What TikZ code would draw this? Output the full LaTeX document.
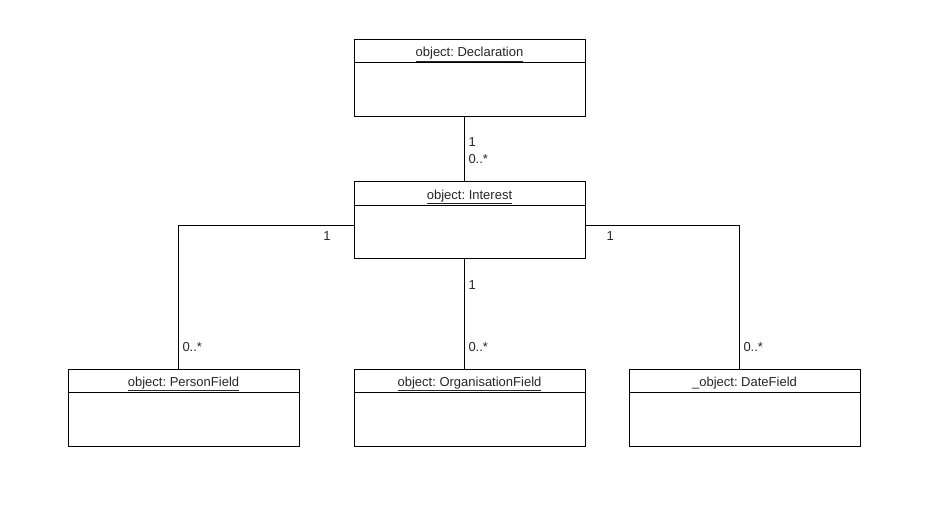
\documentclass[tikz,border=0pt]{standalone}
\usepackage{fontspec}
\setmainfont{Liberation Sans}
\frenchspacing
\begin{document}
\begin{tikzpicture}[x=1pt,y=-1pt,line width=1pt,
  objbox/.style={draw=black,fill=white,minimum width=231pt,minimum height=77pt,inner sep=0pt},
  hdr/.style={anchor=north,inner sep=0pt,text height=10pt,text depth=3pt,yshift=-7.5pt,text=black!85,font=\fontsize{13}{15}\selectfont\frenchspacing},
  mult/.style={inner sep=0pt,text=black!85,font=\fontsize{13}{15}\selectfont},
  conn/.style={draw=black,line width=1pt}]
\useasboundingbox (0,0) rectangle (932,505);
% boxes
\node[objbox] (decl) at (469.5,78) {};
\node[objbox] (interest) at (469.5,220.5) {};
\node[objbox] (person) at (183.5,407.5) {};
\node[objbox] (org) at (469.5,407.5) {};
\node[objbox] (date) at (744.5,407.5) {};
% headers
\foreach \b/\t in {decl/{\underline{object: Declaration}},interest/{\underline{object: Interest}},person/{\underline{object: PersonField}},org/{\underline{object: OrganisationField}},date/{\_object: DateField}}{
  \node[hdr] (\b-h) at (\b.north) {\t};
  \draw ([yshift=-24pt]\b.north west) -- ([yshift=-24pt]\b.north east);
}
% connectors
\draw[conn] ([xshift=-5.5pt]decl.south) -- ([xshift=-5.5pt]interest.north);
\draw[conn] ([yshift=-5.5pt]interest.west) -| ([xshift=-5.5pt]person.north);
\draw[conn] ([xshift=-5.5pt]interest.south) -- ([xshift=-5.5pt]org.north);
\draw[conn] ([yshift=-5.5pt]interest.east) -| ([xshift=-5.5pt]date.north);
% multiplicities
\node[mult,anchor=west] (m1) at (468,142) {1};
\node[mult,anchor=west] (m2) at (468,159) {0..*};
\node[mult,anchor=east] (m3) at (331,236) {1};
\node[mult,anchor=west] (m4) at (182,347) {0..*};
\node[mult,anchor=west] (m5) at (468,285) {1};
\node[mult,anchor=west] (m6) at (468,347) {0..*};
\node[mult,anchor=west] (m7) at (606,236) {1};
\node[mult,anchor=west] (m8) at (743,347) {0..*};
\end{tikzpicture}
\end{document}
